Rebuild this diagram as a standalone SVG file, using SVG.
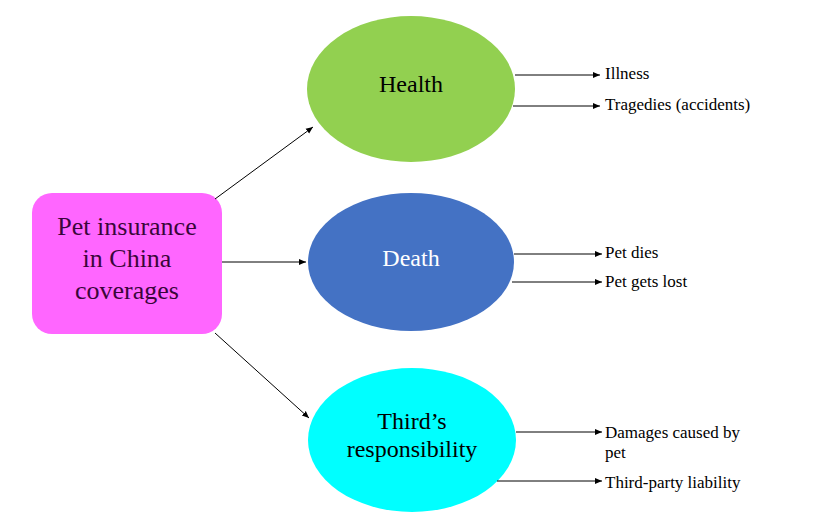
<svg xmlns="http://www.w3.org/2000/svg" width="822" height="525" viewBox="0 0 822 525">
<defs>
<style>
.t{font-family:"Liberation Serif","Times New Roman",serif;}
.big{font-size:24px;text-anchor:middle;}
.box{font-size:26px;text-anchor:middle;}
.small{font-size:17px;fill:#000;}
.c{stroke:#000;stroke-width:1;fill:none;marker-end:url(#ah);}
</style>
<marker id="ah" markerWidth="8" markerHeight="8" refX="7" refY="4" orient="auto" markerUnits="userSpaceOnUse">
<path d="M0,1 L7,4 L0,7 Z" fill="#000"/>
</marker>
</defs>
<rect width="822" height="525" fill="#fff"/>
<g id="root">
<rect x="32" y="193" width="190" height="141" rx="20" ry="20" fill="#FF66FF"/>
<text class="t box" fill="#3a063a"><tspan x="127" y="235">Pet insurance</tspan><tspan x="127" y="267">in China</tspan><tspan x="127" y="299">coverages</tspan></text>
</g>
<g id="health">
<ellipse cx="411" cy="89" rx="104" ry="73" fill="#92D050"/>
<text class="t big" x="411" y="92" fill="#000">Health</text>
</g>
<g id="death">
<ellipse cx="411" cy="262" rx="103" ry="69" fill="#4472C4"/>
<text class="t big" x="411" y="266" fill="#fff">Death</text>
</g>
<g id="third">
<ellipse cx="412" cy="440" rx="104" ry="72" fill="#00FFFF"/>
<text class="t big" fill="#000"><tspan x="412" y="429">Third’s</tspan><tspan x="412" y="457">responsibility</tspan></text>
</g>
<g id="leaves">
<text class="t small" x="605" y="79">Illness</text>
<text class="t small" x="605" y="110">Tragedies (accidents)</text>
<text class="t small" x="605" y="258">Pet dies</text>
<text class="t small" x="605" y="287">Pet gets lost</text>
<text class="t small" x="605" y="438">Damages caused by</text>
<text class="t small" x="605" y="458">pet</text>
<text class="t small" x="605" y="488">Third-party liability</text>
</g>
<g id="connectors">
<line class="c" x1="215" y1="199" x2="313" y2="127"/>
<line class="c" x1="222" y1="262" x2="306" y2="262"/>
<line class="c" x1="215" y1="333" x2="309" y2="418"/>
<line class="c" x1="515" y1="75" x2="600" y2="75"/>
<line class="c" x1="513" y1="106" x2="600" y2="106"/>
<line class="c" x1="514" y1="254" x2="602" y2="254"/>
<line class="c" x1="512" y1="282" x2="602" y2="282"/>
<line class="c" x1="516" y1="432" x2="602" y2="432"/>
<line class="c" x1="497" y1="481" x2="602" y2="481"/>
</g>
</svg>
